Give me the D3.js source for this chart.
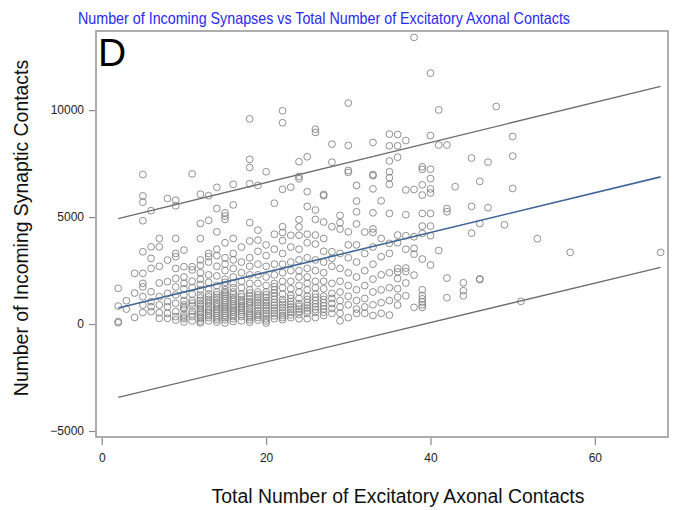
<!DOCTYPE html>
<html>
<head>
<meta charset="utf-8">
<script src="https://cdn.jsdelivr.net/npm/d3@7"></script>
<style>
  html, body { margin: 0; padding: 0; background: #fff; }
  svg { display: block; font-family: "Liberation Sans", Arial, sans-serif; }
</style>
</head>
<body>
<svg id="chart" width="697" height="510"></svg>
<script>
// Incoming synaptic contacts per cell, grouped by its number of excitatory axonal contacts
const contactColumns = [2, 3, 4, 5, 6, 7, 8, 9, 10, 11, 12, 13, 14, 15, 16, 17, 18, 19, 20, 21, 22, 23, 24, 25, 26, 27, 28, 29, 30, 31, 32, 33, 34, 35, 36, 37, 38, 39, 40, 41, 42, 43, 44, 45, 46, 47, 48, 49, 50, 51, 53, 57, 68];
const synapseColumns = [
  [1670, 840, 120, 60],
  [1090, 700],
  [310, 2370, 1450],
  [6990, 5990, 5700, 4830, 3380, 2370, 1900, 1740, 1280, 890, 540],
  [5300, 3610, 3070, 2600, 1510, 1050, 810, 580],
  [4000, 3610, 2700, 1920, 1280, 890, 530, 270],
  [5870, 2990, 1980, 1430, 1050, 810, 500, 270],
  [5790, 5530, 4000, 3300, 3150, 2600, 2130, 1740, 1360, 970, 580, 350, 190],
  [3460, 2680, 2200, 1900, 1650, 1350, 1100, 900, 780, 700, 450, 330, 250, 100],
  [7020, 2680, 2530, 2000, 1700, 1400, 1100, 980, 850, 600, 470, 350, 150],
  [6070, 4700, 4000, 3000, 2750, 2400, 2100, 1850, 1600, 1350, 1220, 1100, 960, 850, 740, 650, 540, 450, 320, 250, 130, 50],
  [6000, 4850, 3300, 3150, 2900, 2300, 1950, 1650, 1400, 1270, 1150, 1040, 950, 820, 700, 610, 500, 390, 300, 150],
  [6390, 5400, 4310, 3500, 3200, 2700, 2250, 1800, 1500, 1370, 1250, 1130, 1000, 900, 800, 690, 600, 500, 400, 290, 200, 90],
  [5200, 5050, 4890, 3800, 3100, 2800, 2500, 2100, 1950, 1800, 1600, 1480, 1400, 1300, 1200, 1090, 1000, 900, 800, 700, 600, 500, 400, 300, 200, 50],
  [6530, 5570, 4000, 3300, 3000, 2600, 2200, 1900, 1700, 1500, 1370, 1250, 1150, 1050, 940, 850, 760, 650, 560, 450, 350, 250, 120],
  [3600, 2900, 2400, 2000, 1700, 1400, 1280, 1150, 1050, 950, 830, 750, 640, 550, 450, 350, 150],
  [9590, 7700, 7320, 6560, 4740, 3880, 3100, 2700, 2300, 1900, 1600, 1450, 1300, 1170, 1050, 950, 850, 720, 600, 500, 400, 300, 200, 90],
  [6480, 4390, 3920, 3400, 2800, 2300, 1900, 1500, 1370, 1250, 1120, 1000, 880, 750, 620, 500, 400, 300, 180],
  [7120, 3700, 3200, 2700, 2200, 1800, 1500, 1370, 1250, 1100, 1000, 870, 750, 630, 500, 380, 250, 150, 50],
  [5650, 4200, 3500, 2800, 2300, 1900, 1750, 1600, 1450, 1300, 1150, 1000, 880, 750, 620, 500, 380, 250],
  [9970, 9410, 6300, 4550, 4280, 3900, 3300, 2800, 2400, 2000, 1700, 1400, 1150, 1020, 900, 780, 650, 520, 400, 300, 200],
  [6400, 4150, 3600, 2900, 2500, 2000, 1650, 1350, 1200, 1050, 920, 800, 680, 550, 430, 300],
  [7590, 6900, 6790, 4880, 4540, 4150, 3500, 3000, 2500, 2200, 1800, 1500, 1200, 950, 830, 700, 580, 450, 250],
  [7820, 6190, 5500, 4200, 3800, 3100, 2600, 2200, 1900, 1600, 1300, 1150, 1000, 870, 750, 620, 500, 250],
  [9110, 8960, 5330, 4890, 4160, 3740, 3000, 2500, 2000, 1700, 1400, 1250, 1100, 950, 800, 680, 550, 300],
  [6060, 6000, 4770, 4000, 3400, 2900, 2400, 2000, 1650, 1300, 1150, 1000, 850, 700, 550, 400],
  [8410, 7570, 4550, 3380, 3070, 2700, 1900, 1430, 1200, 960, 730, 500],
  [5080, 4740, 4440, 3300, 2600, 2000, 1500, 1100, 800, 500, 150],
  [10330, 8350, 7180, 7090, 4310, 3700, 3100, 2400, 1800, 1300, 900, 300],
  [6480, 5750, 5250, 4680, 3700, 2900, 2200, 1600, 1100, 700, 500],
  [4300, 3300, 2500, 1800, 1200, 800, 500],
  [8490, 6990, 6930, 6320, 5200, 4450, 4280, 3600, 2800, 2100, 1500, 900, 400],
  [5760, 4000, 3150, 2300, 1600, 1000, 500],
  [8880, 8330, 7620, 7120, 6840, 6530, 5170, 3770, 3300, 2400, 1700, 1100, 420],
  [8860, 8330, 7800, 4160, 3800, 2600, 2440, 2130, 1650, 1260, 890],
  [8580, 6270, 5110, 4130, 3500, 2620, 2450, 1920, 1320],
  [13400, 6290, 4080, 3540, 3270, 2290, 780],
  [7350, 7230, 6510, 6030, 5170, 4580, 4240, 3040, 1600, 1340, 1180, 1030, 900, 780],
  [11730, 8810, 7240, 6800, 6320, 6130, 5170, 4580, 4130, 2760],
  [10010, 8370, 3440],
  [8370, 5400, 5250, 2150, 1230],
  [6420],
  [1930, 1560, 1320],
  [7760, 5500, 4250],
  [6670, 4700, 2110, 2080],
  [7570, 5440],
  [10170],
  [4640],
  [8770, 7850, 6340],
  [1060],
  [3990],
  [3350],
  [3350]
];

// Least-squares fit and 95% prediction limits, evaluated at the ends of the data range
const fitContacts = [2, 68];
const fitMean = [750, 6880];
const fitUpper = [4930, 11110];
const fitLower = [-3430, 2650];

const xTicks = [0, 20, 40, 60];
const yTicks = [-5000, 0, 5000, 10000];

const chartTitle = "Number of Incoming Synapses vs Total Number of Excitatory Axonal Contacts";
const xTitle = "Total Number of Excitatory Axonal Contacts";
const yTitle = "Number of Incoming Synaptic Contacts";
const panelLetter = "D";

const svg = d3.select("#chart");
const plot = { left: 96, right: 668, top: 31, bottom: 437 };

const x = d3.scaleLinear().domain([-0.7, 68.9]).range([plot.left, plot.right]);
const y = d3.scaleLinear().domain([-5280, 13700]).range([plot.bottom, plot.top]);

const points = contactColumns.flatMap((c, i) => synapseColumns[i].map(v => ({ c, v })));

// Title
svg.append("text")
  .attr("x", 324).attr("y", 24)
  .attr("text-anchor", "middle")
  .attr("fill", "#2a2af0")
  .attr("font-size", 16.5)
  .attr("textLength", 492)
  .attr("lengthAdjust", "spacingAndGlyphs")
  .text(chartTitle);

// Axes
const yAxis = d3.axisLeft(y).tickValues(yTicks).tickSize(6).tickPadding(5).tickFormat(d3.format("d"));
const xAxis = d3.axisBottom(x).tickValues(xTicks).tickSize(7).tickPadding(8).tickFormat(d3.format("d"));

const gy = svg.append("g").attr("transform", `translate(${plot.left - 1},0)`).call(yAxis);
const gx = svg.append("g").attr("transform", `translate(0,${plot.bottom + 1})`).call(xAxis);
[gx, gy].forEach(g => {
  g.select(".domain").remove();
  g.selectAll(".tick line").attr("stroke", "#888").attr("stroke-width", 1.2);
  g.selectAll(".tick text").attr("fill", "#222").attr("font-size", 12)
    .attr("font-family", "'Liberation Sans', Arial, sans-serif");
});

// Plot frame
svg.append("rect")
  .attr("x", plot.left).attr("y", plot.top)
  .attr("width", plot.right - plot.left).attr("height", plot.bottom - plot.top)
  .attr("fill", "none").attr("stroke", "#999").attr("stroke-width", 1.6);

// Scatter
svg.append("g").selectAll("circle").data(points).join("circle")
  .attr("cx", d => x(d.c))
  .attr("cy", d => y(d.v))
  .attr("r", 3.4)
  .attr("fill", "none")
  .attr("stroke", "#7d7d7d")
  .attr("stroke-opacity", 0.85)
  .attr("stroke-width", 1);

// Fit lines
const line = d3.line().x(d => x(d[0])).y(d => y(d[1]));
const pairs = arr => fitContacts.map((c, i) => [c, arr[i]]);
svg.append("path").datum(pairs(fitUpper)).attr("d", line)
  .attr("fill", "none").attr("stroke", "#6e6e6e").attr("stroke-width", 1.4);
svg.append("path").datum(pairs(fitLower)).attr("d", line)
  .attr("fill", "none").attr("stroke", "#6e6e6e").attr("stroke-width", 1.4);
svg.append("path").datum(pairs(fitMean)).attr("d", line)
  .attr("fill", "none").attr("stroke", "#3f6597").attr("stroke-width", 1.6);

// Panel letter
svg.append("text")
  .attr("x", 98).attr("y", 66)
  .attr("fill", "#000").attr("font-size", 39)
  .text(panelLetter);

// Axis titles
svg.append("text")
  .attr("x", 398).attr("y", 503)
  .attr("text-anchor", "middle")
  .attr("fill", "#111").attr("font-size", 19.4)
  .text(xTitle);
svg.append("text")
  .attr("transform", `translate(28,${(plot.top + plot.bottom) / 2 - 6}) rotate(-90)`)
  .attr("text-anchor", "middle")
  .attr("fill", "#111").attr("font-size", 19.4)
  .text(yTitle);
</script>
</body>
</html>
